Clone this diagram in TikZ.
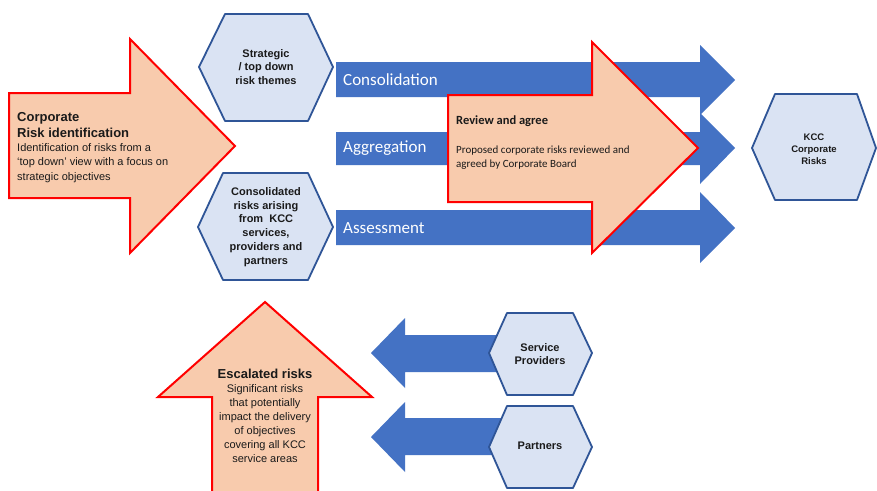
\documentclass[tikz,border=0pt]{standalone}
\usepackage{fontspec}
\setmainfont{Liberation Sans}
\newfontfamily\calfont{Carlito}
\definecolor{orfill}{HTML}{F8CBAD}
\definecolor{redline}{HTML}{FF0000}
\definecolor{bluefill}{HTML}{4472C4}
\definecolor{hexfill}{HTML}{DAE3F3}
\definecolor{hexline}{HTML}{2F5597}
\definecolor{txt}{HTML}{1A1A1A}
\newcommand{\hdr}{\bfseries\fontsize{13}{16}\selectfont}
\begin{document}
\begin{tikzpicture}[x=1pt,y=-1pt,
  orangearrow/.style={fill=orfill, draw=redline, line width=2pt, line join=miter},
  bluearrow/.style={fill=bluefill, draw=none},
  hexbox/.style={fill=hexfill, draw=hexline, line width=1.8pt, line join=round},
  hextext/.style={font=\bfseries\fontsize{11}{13.8}\selectfont, align=center, inner sep=0pt, text=txt},
  bluelabel/.style={font=\calfont\fontsize{17}{20}\selectfont, text=white, anchor=west, inner sep=0pt},
  desc/.style={font=\fontsize{11}{14}\selectfont, inner sep=0pt, text=txt},
]
\useasboundingbox (0,0) rectangle (877,490);
\clip (0,0) rectangle (877,490);
\fill[white] (0,0) rectangle (877,490);

% Corporate risk identification arrow
\draw[orangearrow] (9,93) -- (130,93) -- (130,39) -- (235,146) -- (130,253) -- (130,198) -- (9,198) -- cycle;

% Left hexagons
\draw[hexbox] (199,67) -- (225,14) -- (308,14) -- (333,67) -- (308,121) -- (225,121) -- cycle;
\draw[hexbox] (198,227) -- (223,173) -- (308,173) -- (333,227) -- (308,280) -- (223,280) -- cycle;

% Blue arrows
\fill[bluearrow] (336,62) -- (700,62) -- (700,45) -- (735,80) -- (700,115) -- (700,97) -- (336,97) -- cycle;
\fill[bluearrow] (336,132) -- (700,132) -- (700,113) -- (735,148) -- (700,184) -- (700,165) -- (336,165) -- cycle;
\fill[bluearrow] (336,210) -- (700,210) -- (700,192) -- (735,228) -- (700,263) -- (700,245) -- (336,245) -- cycle;

% Review and agree arrow
\draw[orangearrow] (448,95) -- (592,95) -- (592,42) -- (698,148) -- (592,253) -- (592,202) -- (448,202) -- cycle;

% KCC hexagon
\draw[hexbox] (752,148) -- (775,94) -- (857,94) -- (876,148) -- (857,200) -- (775,200) -- cycle;

% Escalated arrow
\draw[orangearrow] (212,500) -- (212,397) -- (158,397) -- (265,302) -- (372,397) -- (318,397) -- (318,500);

% Left-pointing blue arrows
\fill[bluearrow] (371,353) -- (405,318) -- (405,335) -- (510,335) -- (510,372) -- (405,372) -- (405,388) -- cycle;
\fill[bluearrow] (371,437) -- (405,402) -- (405,418) -- (510,418) -- (510,455) -- (405,455) -- (405,472) -- cycle;

% Bottom hexagons
\draw[hexbox] (489,353) -- (507,313) -- (573,313) -- (592,353) -- (573,395) -- (507,395) -- cycle;
\draw[hexbox] (489,447) -- (507,406) -- (573,406) -- (592,447) -- (573,488) -- (507,488) -- cycle;

% Texts
\node[desc, font=\fontsize{11}{14.5}\selectfont, anchor=west, align=left] (corp) at (17,147.5)
  {\hdr Corporate\\[2pt]\hdr Risk identification\\[-1pt]
   Identification of risks from a\\`top down' view with a focus on\\strategic objectives};

\node[hextext] (strat) at (266,67) {Strategic\\/ top down\\risk themes};
\node[hextext] (cons) at (266,227) {Consolidated\\risks arising\\from~~KCC\\services,\\providers and\\partners};

\node[bluelabel] (lcons) at (343,80) {Consolidation};
\node[bluelabel] (lagg) at (343,148) {Aggregation};
\node[bluelabel] (lass) at (343,228) {Assessment};

\node[inner sep=0pt, anchor=west, text=txt, font=\calfont\bfseries\fontsize{12.5}{15}\selectfont] (rev) at (456,121) {Review and agree};
\node[inner sep=0pt, anchor=north west, align=left, text=txt, font=\calfont\fontsize{11}{14}\selectfont] (revd) at (456,145.5) {Proposed corporate risks reviewed and\\agreed by Corporate Board};

\node[hextext, font=\bfseries\fontsize{9.5}{12.2}\selectfont] (kcc) at (814,149) {KCC\\Corporate\\Risks};

\node[desc, align=center] (esc) at (265,416)
  {\hdr Escalated risks\\Significant risks\\that potentially\\impact the delivery\\of objectives\\covering all KCC\\service areas};

\node[hextext] (sp) at (540,354) {Service\\Providers};
\node[hextext] (part) at (540,446) {Partners};
\end{tikzpicture}
\end{document}
